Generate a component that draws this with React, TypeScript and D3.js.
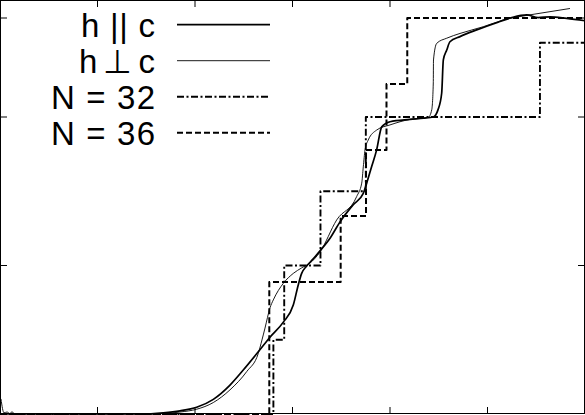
import React from 'react';
import * as d3 from 'd3';

// field (T) and magnetisation (M/Ms)
const paraField = [0, 14.4, 16.75, 18.46, 20.17, 21.88, 23.59, 24.95, 26.49, 27.69, 29.06, 30.08, 30.59, 30.94, 31.46, 32.1, 32.82, 33.85, 34.87, 36.21, 37.26, 37.61, 38.12, 38.63, 39.15, 40.0, 42.05, 43.42, 44.44, 44.92, 45.3, 45.47, 45.82, 46.15, 47.18, 48.89, 51.28, 52.6, 54.02, 55.2, 56.41, 58.12, 60];
const paraM = [0, 0, 0.003, 0.008, 0.017, 0.037, 0.073, 0.111, 0.157, 0.194, 0.232, 0.275, 0.326, 0.355, 0.374, 0.391, 0.412, 0.444, 0.485, 0.528, 0.557, 0.583, 0.625, 0.667, 0.725, 0.738, 0.744, 0.747, 0.75, 0.768, 0.81, 0.894, 0.919, 0.94, 0.953, 0.97, 0.991, 1.002, 1.008, 1.001, 1.003, 0.999, 0.993];

const perpField = [0.1, 0.41, 0.72, 1.03, 1.23, 1.44, 15.38, 18.46, 20.17, 21.88, 23.59, 25.3, 26.49, 26.87, 27.18, 27.69, 28.03, 29.06, 30.08, 30.94, 31.79, 32.82, 34.53, 36.58, 37.1, 37.26, 37.44, 37.77, 38.63, 40.0, 42.05, 43.93, 44.28, 44.44, 44.46, 44.79, 45.82, 47.18, 49.57, 51.62, 54.36, 56.41, 58.46];
const perpM = [0.038, 0.003, 0.005, 0.001, 0.006, 0.001, 0, 0.005, 0.012, 0.029, 0.061, 0.107, 0.153, 0.187, 0.217, 0.268, 0.288, 0.33, 0.355, 0.369, 0.381, 0.409, 0.49, 0.549, 0.583, 0.624, 0.667, 0.692, 0.717, 0.73, 0.744, 0.749, 0.768, 0.836, 0.894, 0.936, 0.949, 0.961, 0.978, 0.995, 1.008, 1.016, 1.024];

// exact-diagonalisation staircases
const n32Field = [0, 28.04, 29.15, 32.87, 37.52, 55.38, 60];
const n32M = [0, 0.1875, 0.375, 0.5625, 0.75, 0.9375, 0.9375];
const n36Field = [0, 27.62, 34.94, 37.54, 39.64, 41.77, 60];
const n36M = [0, 1 / 3, 1 / 2, 2 / 3, 5 / 6, 1, 1];

const xTicks = [10, 20, 30, 40, 50];
const yTicks = [0.375, 0.75, 1.0];

const legendLabels = ['h || c', 'h \u22A5 c', 'N = 32', 'N = 36'];

const W = 585;
const H = 415;

export default function App() {
  const x = d3.scaleLinear().domain([0, 60]).range([0, W]);
  const y = d3.scaleLinear().domain([0, 414 / 396]).range([414, 0]);

  const smooth = d3.line<[number, number]>().x(d => x(d[0])).y(d => y(d[1])).curve(d3.curveMonotoneX);
  const step = d3.line<[number, number]>().x(d => x(d[0])).y(d => y(d[1])).curve(d3.curveStepAfter);

  const zip = (a: number[], b: number[]) => a.map((v, i) => [v, b[i]] as [number, number]);

  const styles = [
    { strokeWidth: 1.7, dash: undefined as string | undefined },
    { strokeWidth: 0.9, dash: undefined },
    { strokeWidth: 1.9, dash: '7,2.5,2,2.5' },
    { strokeWidth: 2, dash: '6,3' },
  ];
  // ink widths of the legend labels, measured on the reference
  const labelLen = [74, 76, 104, 104];

  const paths = [
    smooth(zip(paraField, paraM)),
    smooth(zip(perpField, perpM)),
    step(zip(n32Field, n32M)),
    step(zip(n36Field, n36M)),
  ];

  return (
    <svg width={W} height={H} style={{ position: 'fixed', left: 0, top: 0, background: '#fff' }}>
      <rect x={0} y={0} width={W} height={H} fill="#fff" />
      {/* ticks */}
      <g stroke="#000" strokeWidth={1}>
        {xTicks.map(t => (
          <g key={'x' + t}>
            <line x1={x(t)} x2={x(t)} y1={414} y2={407} />
            <line x1={x(t)} x2={x(t)} y1={0} y2={7} />
          </g>
        ))}
        {yTicks.map(t => (
          <g key={'y' + t}>
            <line x1={0} x2={7} y1={y(t)} y2={y(t)} />
            <line x1={W - 7} x2={W} y1={y(t)} y2={y(t)} />
          </g>
        ))}
      </g>
      {/* data */}
      <g fill="none" stroke="#000" strokeLinejoin="round">
        {paths.map((d, i) => (
          <path key={i} d={d || ''} strokeWidth={styles[i].strokeWidth} strokeDasharray={styles[i].dash} />
        ))}
      </g>
      {/* legend */}
      <g fontFamily="'Liberation Sans', Arial, sans-serif" fontSize={33} fill="#000">
        {legendLabels.map((lab, i) => (
          <g key={lab}>
            <text x={155 - labelLen[i]} y={36.7 + i * 36} textLength={labelLen[i]} lengthAdjust="spacing">{lab}</text>
            <line x1={177} x2={270} y1={24.7 + i * 36} y2={24.7 + i * 36} stroke="#000"
              strokeWidth={styles[i].strokeWidth} strokeDasharray={styles[i].dash} />
          </g>
        ))}
      </g>
      <rect x={0.5} y={0.5} width={W - 1} height={413} fill="none" stroke="#000" strokeWidth={1} />
    </svg>
  );
}
